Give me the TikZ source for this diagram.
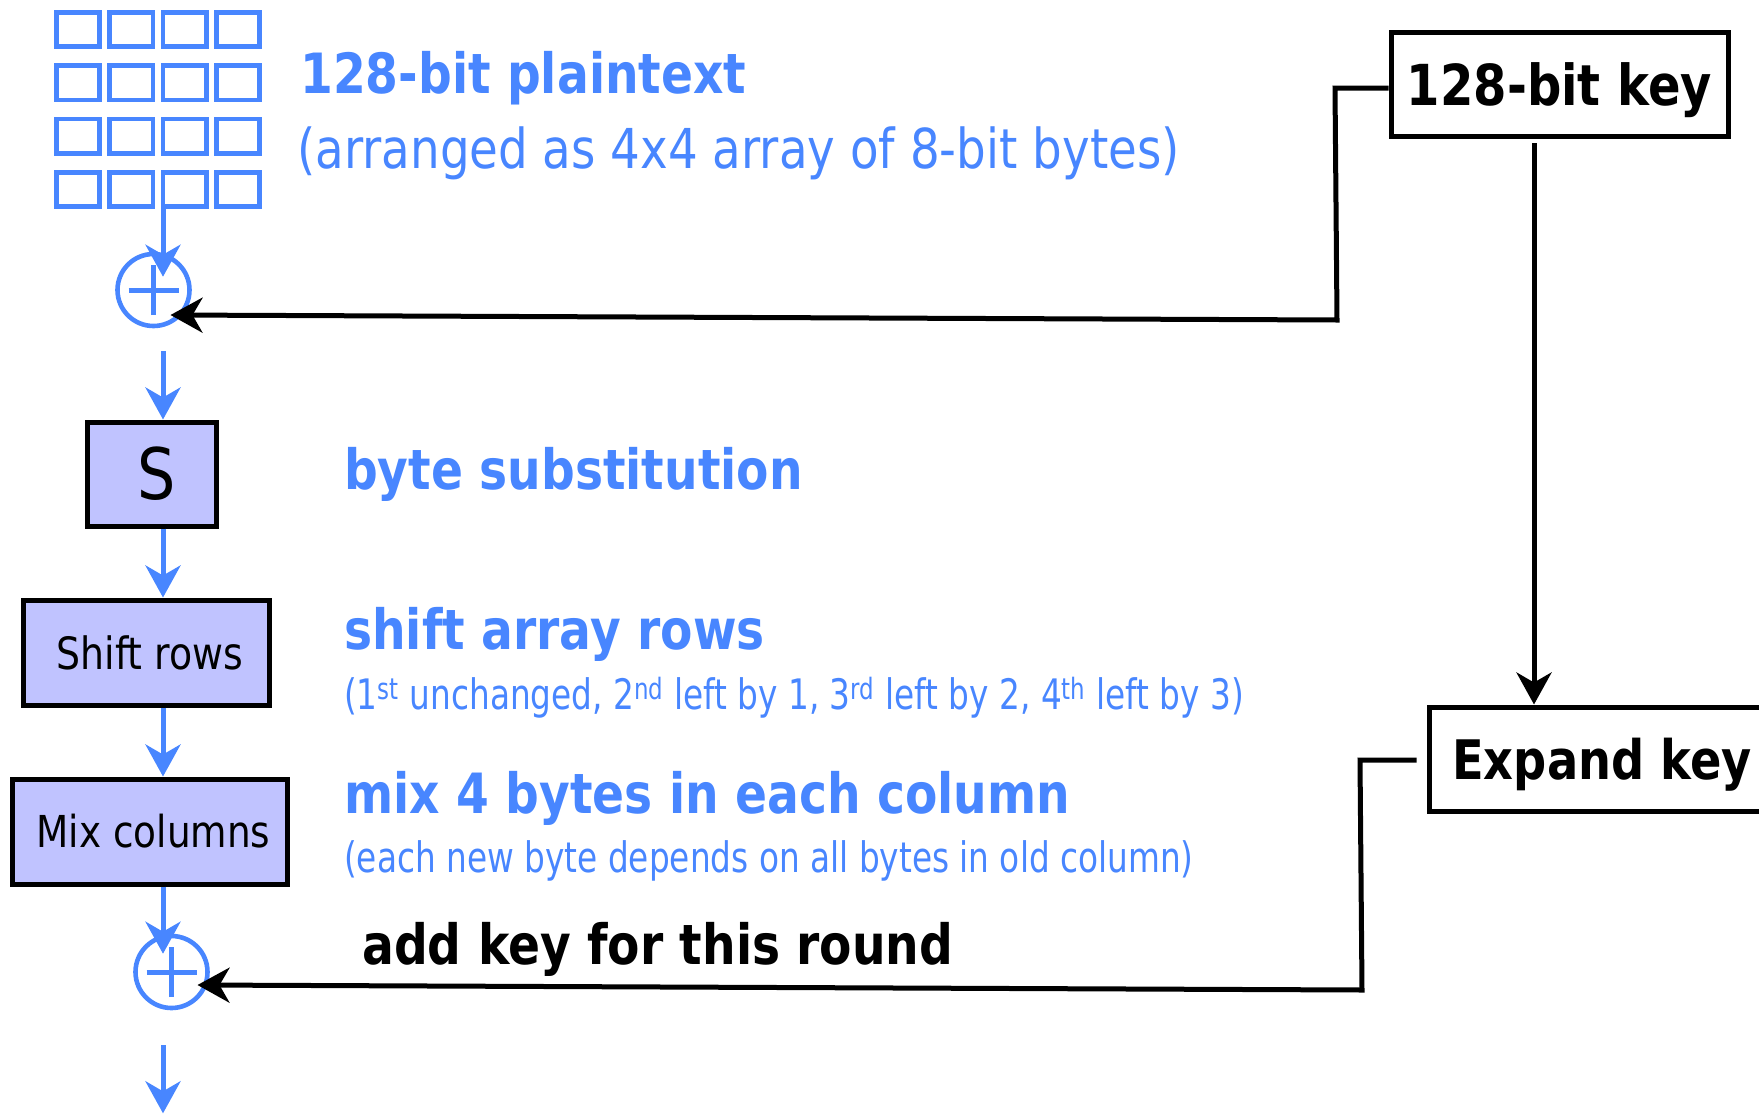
\documentclass[tikz,border=0pt]{standalone}
\usepackage{fontspec}
\setmainfont[FakeStretch=0.85]{DejaVu Sans}
\newfontfamily\narrowfont[FakeStretch=0.78]{DejaVu Sans}
\usetikzlibrary{arrows.meta}
\usetikzlibrary{calc}
\tikzset{>={Stealth[length=32pt,width=35pt,inset=10pt]}}
\definecolor{highlight}{HTML}{4886FF}
\definecolor{boxfill}{HTML}{C0C3FF}

\begin{document}
\begin{tikzpicture}[x=1pt,y=-1pt]
    \tikzset{flow/.style={->, line width=5pt, highlight}}
    \tikzset{keyflow/.style={->, line width=5pt, black}}
    \tikzset{stage/.style={draw, line width=5pt, fill=boxfill, inner sep=0pt}}
    \tikzset{keybox/.style={draw, line width=5pt, fill=white, inner sep=0pt, minimum height=104pt, text depth=0pt}}
    \tikzset{xor/.style={circle, draw=highlight, line width=4.6pt, minimum size=72pt, inner sep=0pt,
        path picture={\draw[highlight, line width=5pt]
            ([xshift=-25pt]path picture bounding box.center) -- ([xshift=25pt]path picture bounding box.center)
            ([yshift=-25pt]path picture bounding box.center) -- ([yshift=25pt]path picture bounding box.center);}}}
    \tikzset{title/.style={anchor=base west, inner sep=0pt, font=\bfseries\fontsize{55.5}{60}\selectfont}}
    \tikzset{note/.style={anchor=base west, inner sep=0pt, highlight, font=\narrowfont\fontsize{42}{48}\selectfont}}

    \useasboundingbox (0,0) rectangle (1759,1114);

    % 4x4 state array
    \foreach \i in {0,...,3}
        \foreach \j in {0,...,3}
            \draw[highlight, line width=4.8pt] ({56.4+53.3*\i},{12.4+53.3*\j}) rectangle ++(43.2,34.2);

    \node[xor] (xor1) at (153.5,290) {};
    \node[xor] (xor2) at (171.5,972) {};
    \node[stage, minimum width=129pt, minimum height=104pt, font=\fontsize{71}{71}\selectfont] (sbox) at (151.5,474) {\hspace*{10pt}S};
    \node[stage, minimum width=246pt, minimum height=105pt, font=\fontsize{44.5}{48}\selectfont] (shift) at (146,652.5) {\hspace*{8pt}Shift rows};
    \node[stage, minimum width=275pt, minimum height=105pt, font=\fontsize{44}{48}\selectfont] (mix) at (149.5,831.5) {\hspace*{8pt}Mix columns};
    \node[keybox, minimum width=337pt, font=\bfseries\fontsize{56.5}{60}\selectfont] (key) at (1559.5,84) {128-bit key};
    \node[keybox, minimum width=346pt, font=\bfseries\fontsize{54.5}{60}\selectfont] (expand) at (1602,759) {Expand key};

    \node[title, highlight] (plain) at (300,93) {128-bit plaintext};
    \node[note, font=\fontsize{55}{60}\selectfont] (plainnote) at (297,168) {(arranged as 4x4 array of 8-bit bytes)};
    \node[title, highlight] (sublabel) at (344,489) {byte substitution};
    \node[title, highlight] (shiftlabel) at (344,649) {shift array rows};
    \node[note] (shiftnote) at (344,709) {(1\textsuperscript{st} unchanged, 2\textsuperscript{nd} left by 1, 3\textsuperscript{rd} left by 2, 4\textsuperscript{th} left by 3)};
    \node[title, highlight] (mixlabel) at (344,813) {mix 4 bytes in each column};
    \node[note] (mixnote) at (344,872) {(each new byte depends on all bytes in old column)};
    \node[title] (addlabel) at (362,964) {add key for this round};

    % data path
    \coordinate (pt) at (163,209);
    \draw[flow] (pt) -- ($(pt |- xor1.north)+(0,25)$);
    \draw[flow] ($(pt |- xor1.south)+(0,23)$) -- (pt |- sbox.north);
    \draw[flow] (pt |- sbox.south) -- (pt |- shift.north);
    \draw[flow] (pt |- shift.south) -- (pt |- mix.north);
    \draw[flow] (pt |- mix.south) -- ($(pt |- xor2.north)+(0,20)$);
    \draw[flow] ($(pt |- xor2.south)+(0,35)$) -- ++(0,68);

    % key path
    \coordinate (k1) at (1335,88);
    \coordinate (k2) at (1337,320);
    \draw[keyflow] (key.west |- k1) -- (k1) -- (k2) -- ($(xor1.center)+(17,25)$);
    \coordinate (kd) at (1534,143);
    \draw[keyflow] (kd) -- (kd |- expand.north);
    \coordinate (e1) at (1360,760);
    \coordinate (e2) at (1362,990);
    \draw[keyflow] ($(expand.west |- e1)+(-10,0)$) -- (e1) -- (e2) -- ($(xor2.center)+(26,13)$);
\end{tikzpicture}
\end{document}
